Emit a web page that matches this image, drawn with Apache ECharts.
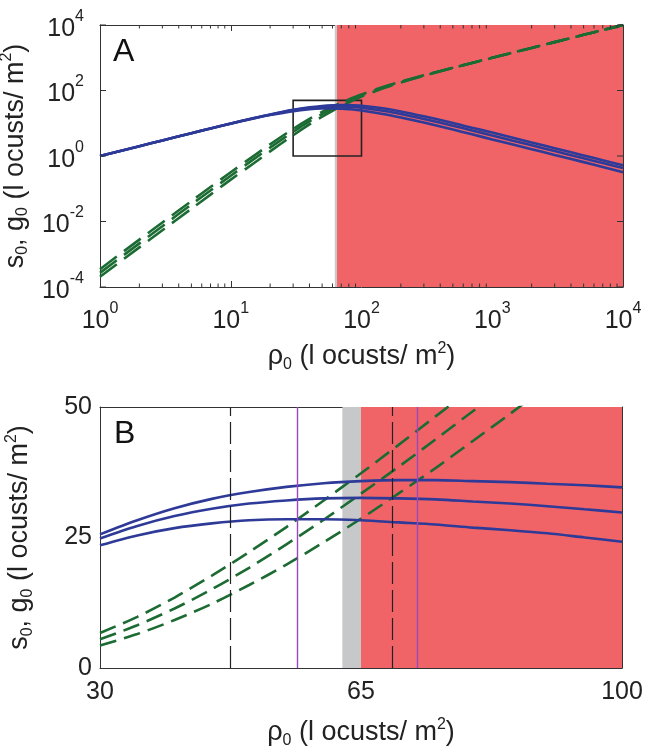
<!DOCTYPE html>
<html><head><meta charset="utf-8">
<script src="https://cdn.jsdelivr.net/npm/echarts@6/dist/echarts.min.js"></script>
<style>html,body{margin:0;padding:0;background:#fff}#c{width:650px;height:753px}</style>
</head><body><div id="c"></div>
<script>
// ---------- Panel A (log-log) ----------
const rhoA  = [1,2,3,5,7,10,15,20,30,40,50,60,70,80,100,150,200,300,500,700,1000,2000,3000,5000,7000,10000];
const sTopA = [1.00,2.00,2.99,4.98,6.93,9.81,14.4,18.6,25.6,30.6,33.7,35.4,36.0,35.8,34.1,28.1,23.0,16.3,10.2,7.3,5.2,2.59,1.73,1.04,0.74,0.52];
const sMidA = [1.00,2.00,2.99,4.97,6.92,9.77,14.3,18.3,24.8,29.1,31.5,32.5,32.5,31.9,29.8,23.8,19.2,13.5,8.4,6.0,4.2,2.12,1.42,0.85,0.61,0.43];
const sBotA = [1.00,2.00,2.99,4.96,6.90,9.70,14.0,17.8,23.5,26.8,28.3,28.5,27.9,26.9,24.5,18.9,15.0,10.5,6.4,4.6,3.2,1.62,1.08,0.65,0.46,0.32];
const gTopA = [3.5e-4,2.8e-3,9.3e-3,0.042,0.113,0.32,1.01,2.27,6.7,13.5,22.2,32.1,42.7,53.7,76,132,186,290,494,696,997,1998,2999,4999,7000,10000];
const gMidA = [2.7e-4,2.15e-3,7.2e-3,0.033,0.088,0.25,0.80,1.81,5.5,11.4,19.2,28.4,38.5,49.2,71,127,182,287,492,694,996,1998,2999,4999,6999,10000];
const gBotA = [2.05e-4,1.62e-3,5.4e-3,0.0245,0.066,0.19,0.60,1.38,4.3,9.2,15.9,24.1,33.4,43.5,65,121,176,283,490,692,995,1997,2998,4999,6999,10000];
const yMajorA = [1e-4, 1e-2, 1, 1e2, 1e4];
const zoomBoxX = [30,100], zoomBoxY = [1,50];

// ---------- Panel B (linear) ----------
const rhoB  = [30,35,40,45,50,55,60,65,70,75,80,85,90,95,100];
const sTopB = [25.6,28.3,30.6,32.4,33.7,34.7,35.4,35.8,36.0,36.0,35.8,35.6,35.3,35.0,34.6];
const sMidB = [24.8,27.2,29.1,30.5,31.5,32.1,32.5,32.6,32.5,32.3,31.9,31.5,31.0,30.4,29.8];
const sBotB = [23.5,25.4,26.8,27.7,28.3,28.5,28.5,28.3,27.9,27.5,26.9,26.4,25.8,25.0,24.2];
const gTopB = [6.7,9.8,13.5,17.7,22.2,27.0,32.1,37.3,42.7,48.2,53.7];
const gMidB = [5.5,8.2,11.4,15.1,19.2,23.7,28.4,33.4,38.5,43.8,49.2,54.7];
const gBotB = [4.3,6.5,9.2,12.3,15.9,19.8,24.1,28.6,33.4,38.3,43.5,48.7,54.1];
const blackDashedX = [47.4, 69.2];
const purpleX = [56.5, 72.5];

// shared regions
const grayBand = [62.5, 65];
const redStart = 65;

const FONT = 'Liberation Sans, Arial, Helvetica, sans-serif';
const BLUE = '#2E3A98', GREEN = '#1B6B33', RED = '#F06468', GRAY = '#C7C8CA', PURPLE = '#9A48C0', AX = '#333';

const pair = (xs, ys) => ys.map((y, i) => [xs[i], y]);
const powFmt = v => { const e = Math.round(Math.log10(v)); return '{b|10}{s|' + (e < 0 ? '-' + (-e) : e) + '}'; };
const powFmtEven = v => { const e = Math.round(Math.log10(v)); return (e % 2 === 0) ? powFmt(v) : ''; };
const powRich = { b: { fontSize: 25, fontFamily: FONT, color: '#222', padding: [8,0,0,0], verticalAlign: 'bottom' },
                  s: { fontSize: 16, fontFamily: FONT, color: '#222', verticalAlign: 'top' } };
const nameRich = { sub: { fontSize: 16, fontFamily: FONT, color: '#222', verticalAlign: 'bottom' },
                   sup: { fontSize: 16, fontFamily: FONT, color: '#222', verticalAlign: 'top' } };
const nameStyle = { fontSize: 27, fontFamily: FONT, color: '#222', lineHeight: 32, rich: nameRich };
const xName = 'ρ{sub|0} (l ocusts/ m{sup|2})';
const yName = 's{sub|0}, g{sub|0} (l ocusts/ m{sup|2})';

function axisBase(extra) {
  return Object.assign({
    axisLine: { show: true, onZero: false, lineStyle: { color: AX, width: 1 } },
    axisTick: { show: true, inside: true, length: 6, lineStyle: { color: AX } },
    splitLine: { show: false }
  }, extra);
}

// minor ticks for the log x axis (2..9 in each decade)
const minorA = [];
for (let d = 0; d < 4; d++) for (let k = 2; k <= 9; k++) minorA.push([k * Math.pow(10, d)]);

const blueLine = { color: BLUE, width: 2.6 };
const greenLine = { color: GREEN, width: 2.6, type: [21, 9] };
const greenLineB = { color: GREEN, width: 2.6, type: [17, 8] };

function line(name, data, xi, yi, ls) {
  return { name, type: 'line', xAxisIndex: xi, yAxisIndex: yi, data, symbol: 'none', lineStyle: ls,
           smooth: 0.3, z: 3, silent: true, animation: false, clip: true };
}

const option = {
  animation: false,
  grid: [
    { left: 100, top: 25, width: 523, height: 262, containLabel: false, outerBoundsMode: 'none' },
    { left: 100, top: 407, width: 522, height: 261, containLabel: false, outerBoundsMode: 'none' }
  ],
  xAxis: [
    axisBase({ gridIndex: 0, type: 'log', logBase: 10, min: 1, max: 10000, position: 'bottom',
      axisLabel: { margin: 14, formatter: powFmt, rich: powRich },
      name: xName, nameLocation: 'middle', nameGap: 54, nameTextStyle: nameStyle }),
    axisBase({ gridIndex: 0, type: 'log', logBase: 10, min: 1, max: 10000, position: 'top',
      axisLabel: { show: false } }),
    axisBase({ gridIndex: 1, type: 'value', min: 30, max: 100, interval: 35, position: 'bottom',
      axisLabel: { margin: 12, fontSize: 25, fontFamily: FONT, color: '#222' },
      name: xName, nameLocation: 'middle', nameGap: 49, nameTextStyle: nameStyle }),
    axisBase({ gridIndex: 1, type: 'value', min: 30, max: 100, interval: 35, position: 'top',
      axisLabel: { show: false } })
  ],
  yAxis: [
    axisBase({ gridIndex: 0, type: 'log', logBase: 10, min: 1e-4, max: 1e4, position: 'left',
      axisTick: { show: false },
      axisLabel: { margin: 16, formatter: powFmtEven, rich: powRich },
      name: yName, nameLocation: 'middle', nameGap: 64, nameRotate: 90, nameTextStyle: nameStyle }),
    axisBase({ gridIndex: 0, type: 'log', logBase: 10, min: 1e-4, max: 1e4, position: 'right',
      axisTick: { show: false }, axisLabel: { show: false } }),
    axisBase({ gridIndex: 1, type: 'value', min: 0, max: 50, interval: 25, position: 'left',
      axisLabel: { margin: 8, fontSize: 25, fontFamily: FONT, color: '#222' },
      name: yName, nameLocation: 'middle', nameGap: 64, nameRotate: 90, nameTextStyle: nameStyle }),
    axisBase({ gridIndex: 1, type: 'value', min: 0, max: 50, interval: 25, position: 'right',
      axisLabel: { show: false } })
  ],
  graphic: [
    { type: 'text', left: 113, top: 36, style: { text: 'A', font: '32px ' + FONT, fill: '#111' } },
    { type: 'text', left: 114, top: 418, style: { text: 'B', font: '32px ' + FONT, fill: '#111' } }
  ],
  series: [
    // regions panel A
    { type: 'line', xAxisIndex: 0, yAxisIndex: 0, data: [[1, 1]], symbol: 'none', lineStyle: { opacity: 0 }, z: 0, silent: true,
      markArea: { silent: true, data: [
        [{ xAxis: grayBand[0], itemStyle: { color: GRAY } }, { xAxis: grayBand[1] }],
        [{ xAxis: redStart, itemStyle: { color: RED } }, { xAxis: 10000 }]
      ] } },
    // zoom box panel A
    { type: 'line', xAxisIndex: 0, yAxisIndex: 0, data: [[1, 1]], symbol: 'none', lineStyle: { opacity: 0 }, z: 4, silent: true,
      markArea: { silent: true, data: [
        [{ xAxis: zoomBoxX[0], yAxis: zoomBoxY[0], itemStyle: { color: 'rgba(0,0,0,0)', borderColor: '#222', borderWidth: 1.6 } },
         { xAxis: zoomBoxX[1], yAxis: zoomBoxY[1] }]
      ] } },
    // minor ticks on log x axis (bottom & top)
    { type: 'custom', xAxisIndex: 0, yAxisIndex: 0, data: minorA, z: 5, silent: true, clip: false,
      renderItem: (params, api) => {
        const v = api.value(0);
        const b = api.coord([v, 1e-4]), t = api.coord([v, 1e4]);
        return { type: 'group', children: [
          { type: 'line', shape: { x1: b[0], y1: b[1], x2: b[0], y2: b[1] - 3.5 }, style: { stroke: AX, lineWidth: 1 } },
          { type: 'line', shape: { x1: t[0], y1: t[1], x2: t[0], y2: t[1] + 3.5 }, style: { stroke: AX, lineWidth: 1 } }
        ] };
      } },
    // major ticks on log y axis (every second decade, left & right)
    { type: 'custom', xAxisIndex: 0, yAxisIndex: 0, data: yMajorA.map(v => [v]), z: 5, silent: true, clip: false,
      renderItem: (params, api) => {
        const v = api.value(0);
        const l = api.coord([1, v]), r = api.coord([10000, v]);
        return { type: 'group', children: [
          { type: 'line', shape: { x1: l[0], y1: l[1], x2: l[0] + 6, y2: l[1] }, style: { stroke: AX, lineWidth: 1 } },
          { type: 'line', shape: { x1: r[0], y1: r[1], x2: r[0] - 6, y2: r[1] }, style: { stroke: AX, lineWidth: 1 } }
        ] };
      } },
    line('g top A', pair(rhoA, gTopA), 0, 0, greenLine),
    line('g mid A', pair(rhoA, gMidA), 0, 0, greenLine),
    line('g bot A', pair(rhoA, gBotA), 0, 0, greenLine),
    line('s top A', pair(rhoA, sTopA), 0, 0, blueLine),
    line('s mid A', pair(rhoA, sMidA), 0, 0, blueLine),
    line('s bot A', pair(rhoA, sBotA), 0, 0, blueLine),

    // regions panel B + vertical lines
    { type: 'line', xAxisIndex: 2, yAxisIndex: 2, data: [[30, 0]], symbol: 'none', lineStyle: { opacity: 0 }, z: 0, silent: true,
      markArea: { silent: true, data: [
        [{ xAxis: grayBand[0], itemStyle: { color: GRAY } }, { xAxis: grayBand[1] }],
        [{ xAxis: redStart, itemStyle: { color: RED } }, { xAxis: 100 }]
      ] } },
    { type: 'line', xAxisIndex: 2, yAxisIndex: 2, data: [[30, 0]], symbol: 'none', lineStyle: { opacity: 0 }, z: 1, silent: true,
      markLine: { silent: true, symbol: ['none', 'none'], label: { show: false }, animation: false,
        data: blackDashedX.map(x => ({ xAxis: x, lineStyle: { color: '#222', width: 1.2, type: [22, 6] } }))
          .concat(purpleX.map(x => ({ xAxis: x, lineStyle: { color: PURPLE, width: 1.4, type: 'solid' } }))) } },
    line('g top B', pair(rhoB, gTopB), 2, 2, greenLineB),
    line('g mid B', pair(rhoB, gMidB), 2, 2, greenLineB),
    line('g bot B', pair(rhoB, gBotB), 2, 2, greenLineB),
    line('s top B', pair(rhoB, sTopB), 2, 2, blueLine),
    line('s mid B', pair(rhoB, sMidB), 2, 2, blueLine),
    line('s bot B', pair(rhoB, sBotB), 2, 2, blueLine)
  ]
};
const chart = echarts.init(document.getElementById('c'), null, { renderer: 'canvas' });
chart.setOption(option);
</script></body></html>
